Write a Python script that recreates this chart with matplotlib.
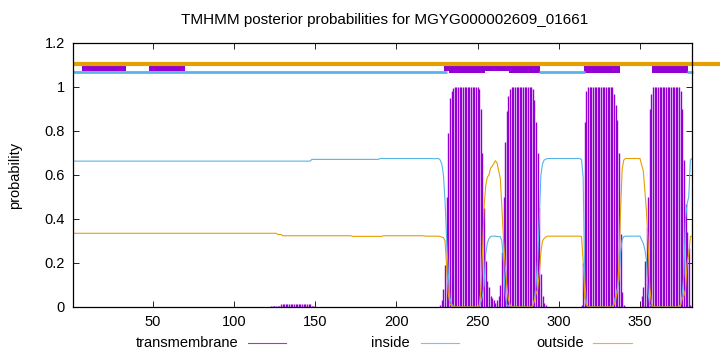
import matplotlib
matplotlib.use('Agg')

import matplotlib.pyplot as plt
import numpy as np
from matplotlib.lines import Line2D

plt.rcParams['font.family'] = ['Liberation Sans', 'DejaVu Sans']

title = 'TMHMM posterior probabilities for MGYG000002609_01661'
seq_len = 382

# residues 1-224: nearly flat, stored as (value, run length)
tm_head_runs = [(0.0, 59), (0.002, 31), (0.0, 32), (0.006, 6), (0.012, 19),
                (0.006, 3), (0.0, 14), (0.002, 28), (0.0, 26), (0.002, 6)]
inside_head_runs = [(0.663, 147), (0.671, 42), (0.675, 33), (0.674, 2)]
outside_head_runs = [(0.335, 126), (0.33, 3), (0.324, 43), (0.321, 19),
                     (0.324, 26), (0.322, 7)]

# residues 225-382
tm_tail = ([0.00, 0.00, 0.01, 0.03, 0.08, 0.19, 0.50, 0.79, 0.95, 0.98, 0.995]
           + [1.0] * 15
           + [0.99, 0.90, 0.70, 0.45, 0.21, 0.12, 0.09, 0.05, 0.04, 0.03,
              0.02, 0.03, 0.05, 0.10, 0.25, 0.50, 0.75, 0.89, 0.96, 0.99]
           + [1.0] * 13
           + [0.99, 0.94, 0.84, 0.70, 0.45, 0.15, 0.05, 0.02, 0.01]
           + [0.0] * 21
           + [0.01, 0.20, 0.84, 0.98]
           + [1.0] * 16
           + [0.97, 0.92, 0.85, 0.70, 0.33, 0.07, 0.01]
           + [0.0] * 10
           + [0.05, 0.09, 0.21, 0.36, 0.50, 0.90, 0.97]
           + [1.0] * 17
           + [0.98, 0.90, 0.67, 0.47, 0.34, 0.27, 0.01, 0.0])

inside_tail = ([0.675, 0.675, 0.668, 0.650, 0.600, 0.480, 0.300, 0.150, 0.040, 0.015, 0.004]
               + [0.0] * 15
               + [0.005, 0.02, 0.05, 0.10, 0.24, 0.29, 0.31, 0.32, 0.322, 0.322,
                  0.322, 0.32, 0.32, 0.32, 0.30, 0.20, 0.06, 0.01, 0.005, 0.0]
               + [0.0] * 13
               + [0.005, 0.03, 0.10, 0.22, 0.40, 0.60, 0.65, 0.668, 0.672]
               + [0.675] * 21
               + [0.67, 0.59, 0.12, 0.01]
               + [0.0] * 16
               + [0.02, 0.05, 0.08, 0.12, 0.245, 0.305, 0.32]
               + [0.322] * 10
               + [0.305, 0.29, 0.26, 0.21, 0.06, 0.01, 0.005]
               + [0.0] * 17
               + [0.01, 0.06, 0.15, 0.40, 0.47, 0.50, 0.668, 0.675])

outside_tail = ([0.322, 0.322, 0.320, 0.318, 0.315, 0.300, 0.180, 0.060, 0.015, 0.005, 0.002]
                + [0.0] * 15
                + [0.005, 0.07, 0.24, 0.45, 0.55, 0.59, 0.60, 0.63, 0.64, 0.652,
                   0.665, 0.655, 0.62, 0.585, 0.45, 0.30, 0.19, 0.10, 0.035, 0.01]
                + [0.0] * 13
                + [0.005, 0.03, 0.06, 0.08, 0.15, 0.25, 0.30, 0.312, 0.318]
                + [0.322] * 21
                + [0.32, 0.21, 0.04, 0.01]
                + [0.0] * 16
                + [0.01, 0.03, 0.07, 0.18, 0.43, 0.625, 0.668]
                + [0.675] * 10
                + [0.645, 0.62, 0.53, 0.43, 0.29, 0.09, 0.02]
                + [0.0] * 17
                + [0.01, 0.04, 0.05, 0.08, 0.20, 0.24, 0.32, 0.322])

# predicted topology drawn at the top
tm_segments = [(232.5, 254.5), (269.5, 288.4), (315.5, 337.7), (357.6, 379.8)]
weak_segments = [(6.7, 33.8), (48.0, 70.0), (229.2, 288.4)]
inside_segments = [(1, 231), (288, 316), (379, 382.5)]


def expand(runs):
    return [v for v, n in runs for _ in range(n)]


tm = np.array(expand(tm_head_runs) + tm_tail)
inside = np.array(expand(inside_head_runs) + inside_tail)
outside = np.array(expand(outside_head_runs) + outside_tail)
res = np.arange(1, len(tm) + 1)

purple = '#9400d3'
blue = '#56b4e9'
orange = '#e69f00'

fig = plt.figure(figsize=(7.2, 3.52), dpi=100)
ax = fig.add_axes([73 / 720, 45 / 352, 619 / 720, 264 / 352])

ax.vlines(res, 0, tm, color=purple, lw=1.0)
ax.plot(res, inside, color=blue, lw=0.8)
ax.plot(res, outside, color=orange, lw=0.8)

ax.plot([1, 399.5], [1.105, 1.105], color=orange, lw=3.0,
        solid_capstyle='butt', clip_on=False)
for a, b in inside_segments:
    ax.plot([a, b], [1.067, 1.067], color=blue, lw=2.0,
            solid_capstyle='butt', clip_on=False)
ax.broken_barh([(a, b - a) for a, b in weak_segments], (1.074, 0.021),
               color=purple, lw=0)
ax.broken_barh([(a, b - a) for a, b in tm_segments], (1.062, 0.048),
               color=purple, lw=0)

ax.set_xlim(1, seq_len)
ax.set_ylim(0, 1.2)
ax.set_xticks([50, 100, 150, 200, 250, 300, 350])
ax.set_yticks([0, 0.2, 0.4, 0.6, 0.8, 1.0, 1.2])
ax.set_yticklabels(['0', '0.2', '0.4', '0.6', '0.8', '1', '1.2'])
ax.tick_params(direction='in', top=True, right=True, length=4, width=0.6,
               labelsize=10.5, pad=6)
for s in ax.spines.values():
    s.set_linewidth(0.9)

ax.set_ylabel('probability', fontsize=10.5, labelpad=16)
fig.text(385 / 720, 1 - 20 / 352, title, ha='center', va='center', fontsize=11)

# key along the bottom
key_y = 1 - 343 / 352
for label, col, x_text, x0, x1 in [('transmembrane', purple, 238, 248, 286),
                                    ('inside', blue, 410, 421, 459),
                                    ('outside', orange, 584, 593, 632)]:
    fig.text(x_text / 720, key_y, label, ha='right', va='center', fontsize=10.5)
    fig.add_artist(Line2D([x0 / 720, x1 / 720], [key_y, key_y], color=col,
                          lw=0.8, alpha=0.8))

plt.savefig('out.png', dpi=100)
